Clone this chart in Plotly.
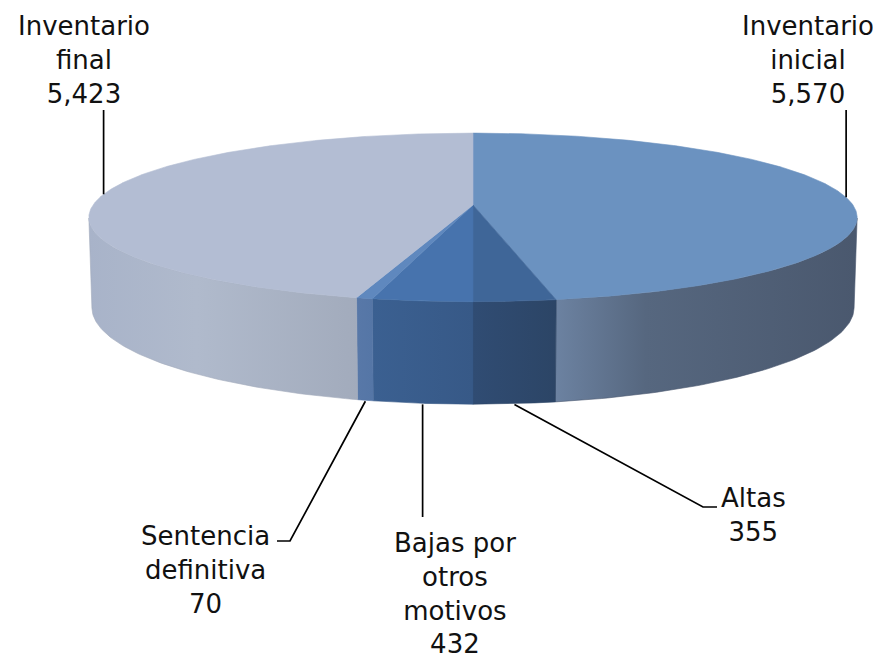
import numpy as np
import plotly.graph_objects as go

# ---- data ----
labels = ["Inventario inicial", "Altas", "Bajas por otros motivos",
          "Sentencia definitiva", "Inventario final"]
label_lines = ["Inventario<br>inicial", "Altas", "Bajas por<br>otros<br>motivos",
               "Sentencia<br>definitiva", "Inventario<br>final"]
values = [5570, 355, 432, 70, 5423]

# ---- style ----
top_colors = ["#6B92C0", "#3F6698", "#4773AD", "#5F88BE", "#B3BDD3"]
wall_scales = [
    [[0, "#6C82A1"], [0.3, "#56677F"], [1, "#4A586E"]],
    [[0, "#304C73"], [1, "#2C4566"]],
    [[0, "#3B6091"], [1, "#375987"]],
    [[0, "#5878A8"], [1, "#5576A6"]],
    [[0, "#A8B3C9"], [0.4, "#B0BACC"], [1, "#A2ABBC"]],
]
# label placement (pixel space): text centre x, first-line top y, leader elbow
label_pos = [
    dict(x=808, y=8.5, elbow=None, ytop=110),
    dict(x=753, y=481, elbow=(703, 507, 717)),
    dict(x=455, y=526, elbow=None, ybot=517),
    dict(x=205, y=519, elbow=(290, 541, 277)),
    dict(x=84, y=8.5, elbow=None, ytop=110),
]

W, Hpx = 881, 657
PAGE_OFF = 8  # body margin of the page
CX, CY = 473.0, 205.0
F, D = 2523.0, 6.64
SA = 0.217
CA = float(np.sqrt(1 - SA ** 2))
THICK = 0.24


def project(theta_deg, z):
    t = np.radians(np.asarray(theta_deg, dtype=float))
    X = np.sin(t)
    Y = np.cos(t)
    depth = D + Y * CA - z * SA
    vert = Y * SA + z * CA
    return CX + F * X / depth, CY - F * vert / depth


total = float(sum(values))
bounds = np.concatenate([[0], np.cumsum(values) / total * 360.0])
vis1 = np.degrees(np.arccos(-1.0 / (D * CA)))
vis2 = 360.0 - vis1

fig = go.Figure()

# side walls
for i in range(len(values)):
    a1, a2 = bounds[i], bounds[i + 1]
    t1, t2 = max(a1, vis1), min(a2, vis2)
    if t2 <= t1:
        continue
    th = np.linspace(t1, t2, 80)
    xt, yt = project(th, 0.0)
    xb, yb = project(th[::-1], -THICK)
    xs = np.concatenate([xt, xb, xt[:1]])
    ys = np.concatenate([yt, yb, yt[:1]])
    fig.add_trace(go.Scatter(
        x=xs, y=ys, mode="lines", fill="toself",
        fillgradient=dict(type="horizontal", colorscale=wall_scales[i]),
        line=dict(width=0.6, color=wall_scales[i][-1][1]),
        hoverinfo="skip", showlegend=False))

# top faces
for i in range(len(values)):
    a1, a2 = bounds[i], bounds[i + 1]
    th = np.linspace(a1, a2, max(4, int((a2 - a1) * 2)))
    xr, yr = project(th, 0.0)
    xs = np.concatenate([[CX], xr, [CX]])
    ys = np.concatenate([[CY], yr, [CY]])
    fig.add_trace(go.Scatter(
        x=xs, y=ys, mode="lines", fill="toself", fillcolor=top_colors[i],
        line=dict(width=0.6, color=top_colors[i]),
        hoverinfo="skip", showlegend=False, name=labels[i]))

# leader lines and labels
for i in range(len(values)):
    mid = (bounds[i] + bounds[i + 1]) / 2
    lp = label_pos[i]
    if "ytop" in lp:
        ax, ay = project(mid, 0.0)
        lx, ly = [ax, ax], [ay, lp["ytop"]]
    else:
        ax, ay = project(mid, -THICK)
        if lp["elbow"] is not None:
            ex, ey, hx = lp["elbow"]
            lx, ly = [ax, ex, hx], [ay + 1, ey, ey]
        else:
            lx, ly = [ax, ax], [ay + 1, lp["ybot"]]
    fig.add_trace(go.Scatter(x=lx, y=ly, mode="lines",
                             line=dict(color="black", width=1.7),
                             hoverinfo="skip", showlegend=False))
    fig.add_annotation(
        x=lp["x"], y=lp["y"], xref="x", yref="y",
        text=f"{label_lines[i]}<br>{values[i]:,}",
        showarrow=False, xanchor="center", yanchor="top", align="center",
        font=dict(family="DejaVu Sans", size=26, color="#111111"))

fig.update_layout(
    width=W, height=Hpx, autosize=False,
    margin=dict(l=0, r=0, t=0, b=0),
    paper_bgcolor="white", plot_bgcolor="white",
    xaxis=dict(range=[PAGE_OFF, W + PAGE_OFF], visible=False, fixedrange=True),
    yaxis=dict(range=[Hpx + PAGE_OFF, PAGE_OFF], visible=False, fixedrange=True),
    showlegend=False,
)

fig.write_html("out.html")
